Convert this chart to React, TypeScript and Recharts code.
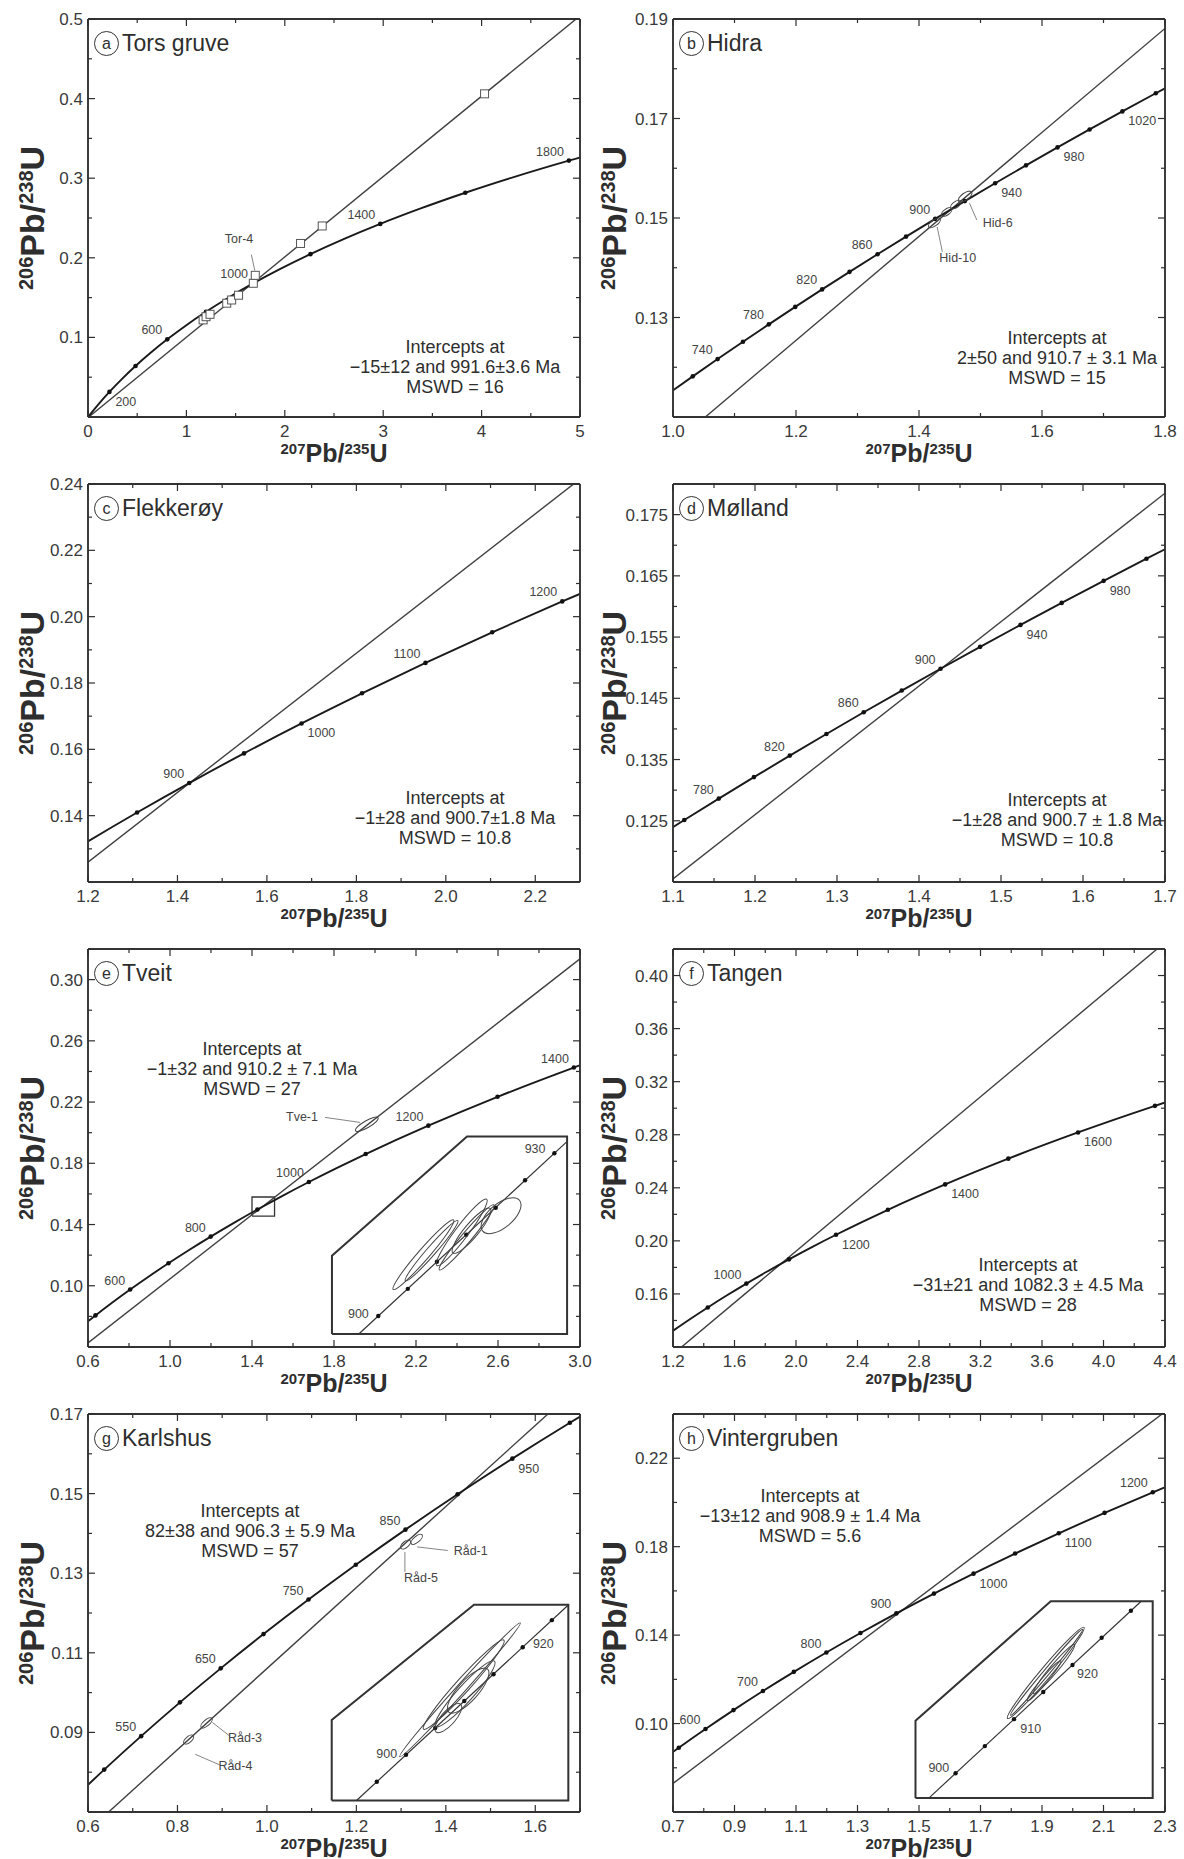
import React from 'react';
import { ComposedChart, Line, XAxis, YAxis } from 'recharts';

const FONT = '"Liberation Sans", Arial, Helvetica, sans-serif';
const INK = '#2e2e2e';

// Concordia reference points: [age Ma, 207Pb/235U, 206Pb/238U]
const CONCORDIA: [number, number, number][] = [
  [0, 0, 0], [100, 0.1035, 0.015633], [200, 0.21771, 0.031511], [300, 0.34374, 0.047637],
  [400, 0.48281, 0.064016], [450, 0.55766, 0.072301], [500, 0.63628, 0.08065],
  [550, 0.71887, 0.089064], [600, 0.80563, 0.097544], [650, 0.89677, 0.10609],
  [660, 0.91554, 0.107807], [680, 0.95365, 0.111249], [700, 0.99251, 0.114702],
  [720, 1.03215, 0.118166], [740, 1.07257, 0.12164], [750, 1.09308, 0.123382],
  [760, 1.1138, 0.125125], [780, 1.15585, 0.128621], [800, 1.19873, 0.132128],
  [820, 1.24247, 0.135646], [840, 1.28708, 0.139175], [850, 1.30971, 0.140944],
  [860, 1.33257, 0.142715], [880, 1.37897, 0.146266], [900, 1.4263, 0.149828],
  [920, 1.47457, 0.153401], [940, 1.52379, 0.156985], [950, 1.54877, 0.158781],
  [960, 1.57399, 0.16058], [980, 1.6252, 0.164186], [1000, 1.6774, 0.167803],
  [1020, 1.73066, 0.171432], [1040, 1.78498, 0.175072], [1050, 1.81254, 0.176896],
  [1060, 1.84038, 0.178723], [1080, 1.89688, 0.182386], [1100, 1.95452, 0.18606],
  [1150, 2.10365, 0.195296], [1200, 2.2603, 0.204603], [1250, 2.42486, 0.213983],
  [1300, 2.59774, 0.223435], [1400, 2.97009, 0.242562], [1500, 3.38099, 0.261987],
  [1600, 3.83441, 0.281716], [1700, 4.33477, 0.301754], [1800, 4.8869, 0.322104],
  [1900, 5.49618, 0.342773], [2000, 6.16852, 0.363765],
];

type Pt = { x: number; y: number };
type Shape = { len: number; wid: number; ang: number };
type Note = { x: number; y: number; text: string };

// ---------- (a) Tors gruve ----------
const A_X_MAJOR = [0, 1, 2, 3, 4, 5];
const A_X_MINOR = [0.5, 1.5, 2.5, 3.5, 4.5];
const A_Y_MAJOR = [0.1, 0.2, 0.3, 0.4, 0.5];
const A_Y_MINOR = [0.05, 0.15, 0.25, 0.35, 0.45];
const A_DISC: Pt[] = [{ x: -0.015, y: -0.0023 }, { x: 5.0, y: 0.504 }];
const A_AGE_LABELS = [{ age: 200, pos: 'lr' }, { age: 600, pos: 'ul' }, { age: 1000, pos: 'ul' }, { age: 1400, pos: 'ul' }, { age: 1800, pos: 'ul' }];
const A_SQUARES: Pt[] = [
  { x: 1.17, y: 0.122 }, { x: 1.2, y: 0.126 }, { x: 1.24, y: 0.129 }, { x: 1.41, y: 0.143 },
  { x: 1.46, y: 0.147 }, { x: 1.53, y: 0.153 }, { x: 1.68, y: 0.168 }, { x: 1.7, y: 0.178 },
  { x: 2.16, y: 0.218 }, { x: 2.38, y: 0.24 }, { x: 4.03, y: 0.406 },
];
const A_NOTES: Note[] = [{ x: 1.535, y: 0.224, text: 'Tor-4' }];
const A_POINTERS: Pt[][] = [[{ x: 1.66, y: 0.204 }, { x: 1.695, y: 0.184 }]];
const A_TEXT = ['Intercepts at', '\u221215\u00b112 and 991.6\u00b13.6 Ma', 'MSWD = 16'];

// ---------- (b) Hidra ----------
const B_X_MAJOR = [1.0, 1.2, 1.4, 1.6, 1.8];
const B_X_MINOR = [1.1, 1.3, 1.5, 1.7];
const B_Y_MAJOR = [0.13, 0.15, 0.17, 0.19];
const B_Y_MINOR = [0.12, 0.14, 0.16, 0.18];
const B_DISC: Pt[] = [{ x: 1.0, y: 0.1045 }, { x: 1.8, y: 0.1881 }];
const B_AGE_LABELS = [
  { age: 740, pos: 'ul' }, { age: 780, pos: 'ul' }, { age: 820, pos: 'ul' }, { age: 860, pos: 'ul' },
  { age: 900, pos: 'ul' }, { age: 940, pos: 'lr' }, { age: 980, pos: 'lr' }, { age: 1020, pos: 'lr' },
];
const B_ELL: Pt[] = [{ x: 1.425, y: 0.149 }, { x: 1.445, y: 0.1512 }, { x: 1.46, y: 0.1527 }, { x: 1.475, y: 0.1543 }];
const B_ELL_SHAPE: Shape[] = [{ len: 14, wid: 6, ang: -35 }, { len: 12, wid: 6, ang: -35 }, { len: 12, wid: 6, ang: -35 }, { len: 16, wid: 7, ang: -35 }];
const B_NOTES: Note[] = [{ x: 1.528, y: 0.149, text: 'Hid-6' }, { x: 1.463, y: 0.142, text: 'Hid-10' }];
const B_POINTERS: Pt[][] = [
  [{ x: 1.494, y: 0.1496 }, { x: 1.482, y: 0.153 }],
  [{ x: 1.438, y: 0.1432 }, { x: 1.4295, y: 0.1482 }],
];
const B_TEXT = ['Intercepts at', '2\u00b150 and 910.7 \u00b1 3.1 Ma', 'MSWD = 15'];

// ---------- (c) Flekkerøy ----------
const C_X_MAJOR = [1.2, 1.4, 1.6, 1.8, 2.0, 2.2];
const C_X_MINOR = [1.3, 1.5, 1.7, 1.9, 2.1];
const C_Y_MAJOR = [0.14, 0.16, 0.18, 0.2, 0.22, 0.24];
const C_Y_MINOR = [0.13, 0.15, 0.17, 0.19, 0.21, 0.23];
const C_DISC: Pt[] = [{ x: 1.2, y: 0.126 }, { x: 2.3, y: 0.2415 }];
const C_AGE_LABELS = [{ age: 900, pos: 'ul' }, { age: 1000, pos: 'lr' }, { age: 1100, pos: 'ul' }, { age: 1200, pos: 'ul' }];
const C_TEXT = ['Intercepts at', '\u22121\u00b128 and 900.7\u00b11.8 Ma', 'MSWD = 10.8'];

// ---------- (d) Mølland ----------
const D_X_MAJOR = [1.1, 1.2, 1.3, 1.4, 1.5, 1.6, 1.7];
const D_X_MINOR = [1.15, 1.25, 1.35, 1.45, 1.55, 1.65];
const D_Y_MAJOR = [0.125, 0.135, 0.145, 0.155, 0.165, 0.175];
const D_Y_MINOR = [0.12, 0.13, 0.14, 0.15, 0.16, 0.17];
const D_DISC: Pt[] = [{ x: 1.1, y: 0.1155 }, { x: 1.7, y: 0.1785 }];
const D_AGE_LABELS = [
  { age: 780, pos: 'ul' }, { age: 820, pos: 'ul' }, { age: 860, pos: 'ul' }, { age: 900, pos: 'ul' },
  { age: 940, pos: 'lr' }, { age: 980, pos: 'lr' },
];
const D_TEXT = ['Intercepts at', '\u22121\u00b128 and 900.7 \u00b1 1.8 Ma', 'MSWD = 10.8'];

// ---------- (e) Tveit ----------
const E_X_MAJOR = [0.6, 1.0, 1.4, 1.8, 2.2, 2.6, 3.0];
const E_X_MINOR = [0.8, 1.2, 1.6, 2.0, 2.4, 2.8];
const E_Y_MAJOR = [0.1, 0.14, 0.18, 0.22, 0.26, 0.3];
const E_Y_MINOR = [0.08, 0.12, 0.16, 0.2, 0.24, 0.28];
const E_DISC: Pt[] = [{ x: 0.6, y: 0.0627 }, { x: 3.0, y: 0.3136 }];
const E_AGE_LABELS = [{ age: 600, pos: 'ul' }, { age: 800, pos: 'ul' }, { age: 1000, pos: 'ul' }, { age: 1200, pos: 'ul' }, { age: 1400, pos: 'ul' }];
const E_FRAMES: Pt[][] = [
  [{ x: 1.79, y: 0.0685 }, { x: 2.937, y: 0.0685 }, { x: 2.937, y: 0.1975 }, { x: 2.449, y: 0.1975 }, { x: 1.79, y: 0.1196 }, { x: 1.79, y: 0.0685 }],
  [{ x: 1.4, y: 0.1455 }, { x: 1.51, y: 0.1455 }, { x: 1.51, y: 0.158 }, { x: 1.4, y: 0.158 }, { x: 1.4, y: 0.1455 }],
];
const E_INSET_LINE: Pt[] = [{ x: 1.921, y: 0.0685 }, { x: 2.935, y: 0.194 }];
const E_INSET_MARKS: Pt[] = [
  { x: 2.016, y: 0.0803 }, { x: 2.16, y: 0.098 }, { x: 2.302, y: 0.1157 }, { x: 2.445, y: 0.1334 },
  { x: 2.589, y: 0.151 }, { x: 2.732, y: 0.1689 }, { x: 2.875, y: 0.1866 },
];
const E_ELL: Pt[] = [
  { x: 1.96, y: 0.2055 }, { x: 2.236, y: 0.1203 }, { x: 2.276, y: 0.1229 }, { x: 2.423, y: 0.1349 },
  { x: 2.447, y: 0.1316 }, { x: 2.471, y: 0.136 }, { x: 2.615, y: 0.1458 },
];
const E_ELL_SHAPE: Shape[] = [
  { len: 26, wid: 7, ang: -30 }, { len: 92, wid: 11, ang: -49 }, { len: 80, wid: 9, ang: -49 }, { len: 83, wid: 13, ang: -53 },
  { len: 85, wid: 10, ang: -50 }, { len: 58, wid: 14, ang: -50 }, { len: 48, wid: 24, ang: -40 },
];
const E_NOTES: Note[] = [
  { x: 1.644, y: 0.21, text: 'Tve-1' }, { x: 1.919, y: 0.0818, text: '900' }, { x: 2.781, y: 0.1895, text: '930' },
];
const E_POINTERS: Pt[][] = [[{ x: 1.756, y: 0.21 }, { x: 1.927, y: 0.2067 }]];
const E_TEXT = ['Intercepts at', '\u22121\u00b132 and 910.2 \u00b1 7.1 Ma', 'MSWD = 27'];

// ---------- (f) Tangen ----------
const F_X_MAJOR = [1.2, 1.6, 2.0, 2.4, 2.8, 3.2, 3.6, 4.0, 4.4];
const F_X_MINOR = [1.4, 1.8, 2.2, 2.6, 3.0, 3.4, 3.8, 4.2];
const F_Y_MAJOR = [0.16, 0.2, 0.24, 0.28, 0.32, 0.36, 0.4];
const F_Y_MINOR = [0.14, 0.18, 0.22, 0.26, 0.3, 0.34, 0.38];
const F_DISC: Pt[] = [{ x: 1.2, y: 0.1146 }, { x: 4.4, y: 0.425 }];
const F_AGE_LABELS = [{ age: 1000, pos: 'ul' }, { age: 1200, pos: 'lr' }, { age: 1400, pos: 'lr' }, { age: 1600, pos: 'lr' }];
const F_TEXT = ['Intercepts at', '\u221231\u00b121 and 1082.3 \u00b1 4.5 Ma', 'MSWD = 28'];

// ---------- (g) Karlshus ----------
const G_X_MAJOR = [0.6, 0.8, 1.0, 1.2, 1.4, 1.6];
const G_X_MINOR = [0.7, 0.9, 1.1, 1.3, 1.5, 1.7];
const G_Y_MAJOR = [0.09, 0.11, 0.13, 0.15, 0.17];
const G_Y_MINOR = [0.08, 0.1, 0.12, 0.14, 0.16];
const G_DISC: Pt[] = [{ x: 0.6, y: 0.0653 }, { x: 1.7, y: 0.1773 }];
const G_AGE_LABELS = [{ age: 550, pos: 'ul' }, { age: 650, pos: 'ul' }, { age: 750, pos: 'ul' }, { age: 850, pos: 'ul' }, { age: 950, pos: 'lr' }];
const G_FRAMES: Pt[][] = [
  [{ x: 1.1449, y: 0.0729 }, { x: 1.6739, y: 0.0729 }, { x: 1.6739, y: 0.1221 }, { x: 1.463, y: 0.1221 }, { x: 1.1449, y: 0.0931 }, { x: 1.1449, y: 0.0729 }],
];
const G_INSET_LINE: Pt[] = [{ x: 1.2004, y: 0.0729 }, { x: 1.6739, y: 0.122 }];
const G_INSET_MARKS: Pt[] = [
  { x: 1.2457, y: 0.0776 }, { x: 1.311, y: 0.0844 }, { x: 1.3763, y: 0.0911 }, { x: 1.4413, y: 0.0979 },
  { x: 1.5066, y: 0.1046 }, { x: 1.5719, y: 0.1114 }, { x: 1.637, y: 0.1182 },
];
const G_ELL: Pt[] = [
  { x: 1.335, y: 0.1385 }, { x: 1.31, y: 0.1372 }, { x: 0.865, y: 0.0924 }, { x: 0.825, y: 0.0882 },
  { x: 1.4317, y: 0.1007 }, { x: 1.44, y: 0.102 }, { x: 1.443, y: 0.0997 }, { x: 1.45, y: 0.1005 }, { x: 1.4056, y: 0.0936 },
];
const G_ELL_SHAPE: Shape[] = [
  { len: 14, wid: 6, ang: -40 }, { len: 12, wid: 6, ang: -40 }, { len: 14, wid: 6, ang: -40 }, { len: 12, wid: 6, ang: -40 },
  { len: 180, wid: 9, ang: -48 }, { len: 120, wid: 14, ang: -48 }, { len: 88, wid: 16, ang: -48 }, { len: 58, wid: 20, ang: -48 }, { len: 37, wid: 14, ang: -48 },
];
const G_NOTES: Note[] = [
  { x: 1.4556, y: 0.1357, text: 'R\u00e5d-1' }, { x: 1.3445, y: 0.1289, text: 'R\u00e5d-5' },
  { x: 0.951, y: 0.0887, text: 'R\u00e5d-3' }, { x: 0.9296, y: 0.0816, text: 'R\u00e5d-4' },
  { x: 1.2678, y: 0.0845, text: '900' }, { x: 1.618, y: 0.1122, text: '920' },
];
const G_POINTERS: Pt[][] = [
  [{ x: 1.4044, y: 0.1357 }, { x: 1.3358, y: 0.1366 }],
  [{ x: 1.3085, y: 0.1303 }, { x: 1.3085, y: 0.1353 }],
  [{ x: 0.9166, y: 0.0891 }, { x: 0.8781, y: 0.0925 }],
  [{ x: 0.8951, y: 0.0818 }, { x: 0.8397, y: 0.0845 }],
];
const G_TEXT = ['Intercepts at', '82\u00b138 and 906.3 \u00b1 5.9 Ma', 'MSWD = 57'];

// ---------- (h) Vintergruben ----------
const H_X_MAJOR = [0.7, 0.9, 1.1, 1.3, 1.5, 1.7, 1.9, 2.1, 2.3];
const H_X_MINOR = [0.8, 1.0, 1.2, 1.4, 1.6, 1.8, 2.0, 2.2];
const H_Y_MAJOR = [0.1, 0.14, 0.18, 0.22];
const H_Y_MINOR = [0.08, 0.12, 0.16, 0.2, 0.24];
const H_DISC: Pt[] = [{ x: 0.7, y: 0.0729 }, { x: 2.3, y: 0.241 }];
const H_AGE_LABELS = [
  { age: 600, pos: 'ul' }, { age: 700, pos: 'ul' }, { age: 800, pos: 'ul' }, { age: 900, pos: 'ul' },
  { age: 1000, pos: 'lr' }, { age: 1100, pos: 'lr' }, { age: 1200, pos: 'ul' },
];
const H_FRAMES: Pt[][] = [
  [{ x: 1.4886, y: 0.0663 }, { x: 2.26, y: 0.0663 }, { x: 2.26, y: 0.1553 }, { x: 1.9285, y: 0.1553 }, { x: 1.4886, y: 0.1013 }, { x: 1.4886, y: 0.0663 }],
];
const H_INSET_LINE: Pt[] = [{ x: 1.532, y: 0.0663 }, { x: 2.2226, y: 0.1553 }];
const H_INSET_MARKS: Pt[] = [
  { x: 1.6189, y: 0.0775 }, { x: 1.7141, y: 0.0898 }, { x: 1.809, y: 0.102 }, { x: 1.9041, y: 0.1143 },
  { x: 1.9992, y: 0.1265 }, { x: 2.0941, y: 0.1388 }, { x: 2.1892, y: 0.151 },
];
const H_ELL: Pt[] = [{ x: 1.9122, y: 0.1229 }, { x: 1.915, y: 0.1232 }, { x: 1.9392, y: 0.1247 }, { x: 1.9068, y: 0.1194 }];
const H_ELL_SHAPE: Shape[] = [{ len: 119, wid: 11, ang: -50 }, { len: 112, wid: 6, ang: -50 }, { len: 64, wid: 8, ang: -50 }, { len: 52, wid: 6, ang: -50 }];
const H_NOTES: Note[] = [
  { x: 1.5645, y: 0.0801, text: '900' }, { x: 1.8633, y: 0.0975, text: '910' }, { x: 2.0481, y: 0.1224, text: '920' },
];
const H_TEXT = ['Intercepts at', '\u221213\u00b112 and 908.9 \u00b1 1.4 Ma', 'MSWD = 5.6'];

// ---------- layout ----------
const ROW_H = 465;
const PLOT_TOP = 19;
const PLOT_BOTTOM = 417;
const COLS = [
  { left: 0, width: 604, plotLeft: 88, plotRight: 580, yTitleX: 32 },
  { left: 590, width: 594, plotLeft: 83, plotRight: 575, yTitleX: 24 },
];

interface PanelDef {
  letter: string; name: string; col: number; row: number;
  xDomain: [number, number]; yDomain: [number, number];
  xMajor: number[]; xMinor: number[]; yMajor: number[]; yMinor: number[];
  xDec: number; yDec: number;
  conc: { min: number; max: number; curveStep: number; markStep: number };
  ageLabels: { age: number; pos: string }[];
  disc: Pt[]; text: string[]; textAt: { x: number; y: number };
  frames?: Pt[][]; pointers?: Pt[][]; squares?: Pt[];
  ell?: Pt[]; ellShape?: Shape[]; insetLine?: Pt[]; insetMarks?: Pt[]; notes?: Note[];
}

const PANELS: PanelDef[] = [
  { letter: 'a', name: 'Tors gruve', col: 0, row: 0, xDomain: [0, 5], yDomain: [0, 0.5],
    xMajor: A_X_MAJOR, xMinor: A_X_MINOR, yMajor: A_Y_MAJOR, yMinor: A_Y_MINOR, xDec: 0, yDec: 1,
    conc: { min: 0, max: 2000, curveStep: 100, markStep: 200 }, ageLabels: A_AGE_LABELS,
    disc: A_DISC, text: A_TEXT, textAt: { x: 455, y: 347 }, squares: A_SQUARES, notes: A_NOTES, pointers: A_POINTERS },
  { letter: 'b', name: 'Hidra', col: 1, row: 0, xDomain: [1.0, 1.8], yDomain: [0.11, 0.19],
    xMajor: B_X_MAJOR, xMinor: B_X_MINOR, yMajor: B_Y_MAJOR, yMinor: B_Y_MINOR, xDec: 1, yDec: 2,
    conc: { min: 680, max: 1080, curveStep: 20, markStep: 20 }, ageLabels: B_AGE_LABELS,
    disc: B_DISC, text: B_TEXT, textAt: { x: 467, y: 338 }, ell: B_ELL, ellShape: B_ELL_SHAPE, notes: B_NOTES, pointers: B_POINTERS },
  { letter: 'c', name: 'Flekker\u00f8y', col: 0, row: 1, xDomain: [1.2, 2.3], yDomain: [0.12, 0.24],
    xMajor: C_X_MAJOR, xMinor: C_X_MINOR, yMajor: C_Y_MAJOR, yMinor: C_Y_MINOR, xDec: 1, yDec: 2,
    conc: { min: 750, max: 1300, curveStep: 50, markStep: 50 }, ageLabels: C_AGE_LABELS,
    disc: C_DISC, text: C_TEXT, textAt: { x: 455, y: 333 } },
  { letter: 'd', name: 'M\u00f8lland', col: 1, row: 1, xDomain: [1.1, 1.7], yDomain: [0.115, 0.18],
    xMajor: D_X_MAJOR, xMinor: D_X_MINOR, yMajor: D_Y_MAJOR, yMinor: D_Y_MINOR, xDec: 1, yDec: 3,
    conc: { min: 720, max: 1040, curveStep: 20, markStep: 20 }, ageLabels: D_AGE_LABELS,
    disc: D_DISC, text: D_TEXT, textAt: { x: 467, y: 335 } },
  { letter: 'e', name: 'Tveit', col: 0, row: 2, xDomain: [0.6, 3.0], yDomain: [0.06, 0.32],
    xMajor: E_X_MAJOR, xMinor: E_X_MINOR, yMajor: E_Y_MAJOR, yMinor: E_Y_MINOR, xDec: 1, yDec: 2,
    conc: { min: 450, max: 1500, curveStep: 50, markStep: 100 }, ageLabels: E_AGE_LABELS,
    disc: E_DISC, text: E_TEXT, textAt: { x: 252, y: 119 }, frames: E_FRAMES, insetLine: E_INSET_LINE,
    insetMarks: E_INSET_MARKS, ell: E_ELL, ellShape: E_ELL_SHAPE, notes: E_NOTES, pointers: E_POINTERS },
  { letter: 'f', name: 'Tangen', col: 1, row: 2, xDomain: [1.2, 4.4], yDomain: [0.12, 0.42],
    xMajor: F_X_MAJOR, xMinor: F_X_MINOR, yMajor: F_Y_MAJOR, yMinor: F_Y_MINOR, xDec: 1, yDec: 2,
    conc: { min: 800, max: 1800, curveStep: 50, markStep: 100 }, ageLabels: F_AGE_LABELS,
    disc: F_DISC, text: F_TEXT, textAt: { x: 438, y: 335 } },
  { letter: 'g', name: 'Karlshus', col: 0, row: 3, xDomain: [0.6, 1.7], yDomain: [0.07, 0.17],
    xMajor: G_X_MAJOR, xMinor: G_X_MINOR, yMajor: G_Y_MAJOR, yMinor: G_Y_MINOR, xDec: 1, yDec: 2,
    conc: { min: 450, max: 1050, curveStep: 50, markStep: 50 }, ageLabels: G_AGE_LABELS,
    disc: G_DISC, text: G_TEXT, textAt: { x: 250, y: 116 }, frames: G_FRAMES, insetLine: G_INSET_LINE,
    insetMarks: G_INSET_MARKS, ell: G_ELL, ellShape: G_ELL_SHAPE, notes: G_NOTES, pointers: G_POINTERS },
  { letter: 'h', name: 'Vintergruben', col: 1, row: 3, xDomain: [0.7, 2.3], yDomain: [0.06, 0.24],
    xMajor: H_X_MAJOR, xMinor: H_X_MINOR, yMajor: H_Y_MAJOR, yMinor: H_Y_MINOR, xDec: 1, yDec: 2,
    conc: { min: 500, max: 1300, curveStep: 50, markStep: 50 }, ageLabels: H_AGE_LABELS,
    disc: H_DISC, text: H_TEXT, textAt: { x: 220, y: 101 }, frames: H_FRAMES, insetLine: H_INSET_LINE,
    insetMarks: H_INSET_MARKS, ell: H_ELL, ellShape: H_ELL_SHAPE, notes: H_NOTES },
];

const near = (a: number, list: number[]) => list.some((m) => Math.abs(m - a) < 1e-9);

function tickFactory(side: string, majors: number[], dec: number) {
  return (p: any) => {
    const v = p.payload.value;
    const major = near(v, majors);
    const len = major ? 7 : 4;
    const x = p.x;
    const y = p.y;
    let ln: any;
    if (side === 'b') ln = <line x1={x} y1={y} x2={x} y2={y - len} />;
    else if (side === 't') ln = <line x1={x} y1={y} x2={x} y2={y + len} />;
    else if (side === 'l') ln = <line x1={x} y1={y} x2={x + len} y2={y} />;
    else ln = <line x1={x} y1={y} x2={x - len} y2={y} />;
    let label: any = null;
    if (major && side === 'b') {
      label = <text x={x} y={y + 20} textAnchor="middle" fontSize={17} fill="#3a3a3a" fontFamily={FONT}>{v.toFixed(dec)}</text>;
    } else if (major && side === 'l') {
      label = <text x={x - 5} y={y + 6} textAnchor="end" fontSize={17} fill="#3a3a3a" fontFamily={FONT}>{v.toFixed(dec)}</text>;
    }
    return (
      <g key={`${side}-${v}`}>
        <g stroke={INK} strokeWidth={1.2}>{ln}</g>
        {label}
      </g>
    );
  };
}

const AX = { stroke: '#333', strokeWidth: 1.9 };

function Sup({ children, size }: { children: any; size: number }) {
  return <span style={{ fontSize: size, position: 'relative', top: -size * 0.55 }}>{children}</span>;
}

function Panel({ d }: { d: PanelDef }) {
  const col = COLS[d.col];
  const W = col.width;
  // axes are 1px thick, so margins are reduced by one pixel on each side
  const margin = { top: PLOT_TOP - 1, right: W - col.plotRight - 1, bottom: ROW_H - PLOT_BOTTOM - 1, left: col.plotLeft - 1 };
  const [x0, x1] = d.xDomain;
  const [y0, y1] = d.yDomain;
  const curve = CONCORDIA
    .filter(([a]) => a >= d.conc.min && a <= d.conc.max && a % d.conc.curveStep === 0)
    .map(([age, x, y]) => ({ age, x, y }));
  const labelMap: Record<number, string> = {};
  d.ageLabels.forEach((l) => { labelMap[l.age] = l.pos; });
  const xt = [...d.xMajor, ...d.xMinor].sort((a, b) => a - b);
  const yt = [...d.yMajor, ...d.yMinor].sort((a, b) => a - b);

  const concDot = (p: any) => {
    const { cx, cy, payload, index } = p;
    const inside = payload.x >= x0 && payload.x <= x1 && payload.y >= y0 && payload.y <= y1;
    if (!inside || payload.age === 0 || payload.age % d.conc.markStep !== 0) return <g key={`c${index}`} />;
    const pos = labelMap[payload.age];
    return (
      <g key={`c${index}`}>
        <circle cx={cx} cy={cy} r={2.3} fill="#111" />
        {pos === 'ul' && <text x={cx - 5} y={cy - 5} textAnchor="end" fontSize={12.5} fill="#444" fontFamily={FONT}>{payload.age}</text>}
        {pos === 'lr' && <text x={cx + 6} y={cy + 14} textAnchor="start" fontSize={12.5} fill="#444" fontFamily={FONT}>{payload.age}</text>}
      </g>
    );
  };
  const markDot = (p: any) => <circle key={`m${p.index}`} cx={p.cx} cy={p.cy} r={2.2} fill="#111" />;
  const squareDot = (p: any) => (
    <rect key={`s${p.index}`} x={p.cx - 4} y={p.cy - 4} width={8} height={8} fill="#fff" stroke="#555" strokeWidth={1} />
  );
  const ellDot = (p: any) => {
    const s = (d.ellShape || [])[p.index];
    if (!s) return <g key={`e${p.index}`} />;
    return (
      <ellipse key={`e${p.index}`} cx={p.cx} cy={p.cy} rx={s.len / 2} ry={s.wid / 2}
        transform={`rotate(${s.ang} ${p.cx} ${p.cy})`} fill="none" stroke="#444" strokeWidth={1} />
    );
  };
  const noteDot = (p: any) => (
    <text key={`n${p.index}`} x={p.cx} y={p.cy + 4} textAnchor="middle" fontSize={12.5} fill="#444" fontFamily={FONT}>{p.payload.text}</text>
  );

  const common = { xAxisId: 'x', yAxisId: 'y', dataKey: 'y', isAnimationActive: false, activeDot: false as any };
  const plotCx = (col.plotLeft + col.plotRight) / 2;
  const plotCy = (PLOT_TOP + PLOT_BOTTOM) / 2;

  return (
    <div style={{ position: 'absolute', left: col.left, top: d.row * ROW_H, width: W, height: ROW_H }}>
      <ComposedChart width={W} height={ROW_H} margin={margin}>
        <XAxis xAxisId="x" type="number" dataKey="x" domain={d.xDomain} allowDataOverflow ticks={xt} interval={0}
          tickSize={0} tickMargin={0} tickLine={false} axisLine={AX} tick={tickFactory('b', d.xMajor, d.xDec)} height={1} orientation="bottom" />
        <XAxis xAxisId="xt" type="number" dataKey="x" domain={d.xDomain} allowDataOverflow ticks={xt} interval={0}
          tickSize={0} tickMargin={0} tickLine={false} axisLine={AX} tick={tickFactory('t', d.xMajor, d.xDec)} height={1} orientation="top" />
        <YAxis yAxisId="y" type="number" dataKey="y" domain={d.yDomain} allowDataOverflow ticks={yt} interval={0}
          tickSize={0} tickMargin={0} tickLine={false} axisLine={AX} tick={tickFactory('l', d.yMajor, d.yDec)} width={1} orientation="left" />
        <YAxis yAxisId="yr" type="number" dataKey="y" domain={d.yDomain} allowDataOverflow ticks={yt} interval={0}
          tickSize={0} tickMargin={0} tickLine={false} axisLine={AX} tick={tickFactory('r', d.yMajor, d.yDec)} width={1} orientation="right" />
        <Line xAxisId="xt" yAxisId="yr" dataKey="y" data={d.disc} stroke="none" dot={false} isAnimationActive={false} activeDot={false} />
        {(d.frames || []).map((f, i) => (
          <Line key={`f${i}`} {...common} data={f} type="linear" stroke="#333" strokeWidth={i === 0 ? 2 : 1.3} dot={false} />
        ))}
        {(d.pointers || []).map((f, i) => (
          <Line key={`p${i}`} {...common} data={f} type="linear" stroke="#777" strokeWidth={0.9} dot={false} />
        ))}
        <Line {...common} data={d.disc} type="linear" stroke="#404040" strokeWidth={1.4} dot={false} />
        <Line {...common} data={curve} type="monotone" stroke="#1a1a1a" strokeWidth={1.9} dot={concDot} />
        {d.insetLine && <Line {...common} data={d.insetLine} type="linear" stroke="#333" strokeWidth={1.2} dot={false} />}
        {d.insetMarks && <Line {...common} data={d.insetMarks} type="linear" stroke="none" dot={markDot} />}
        {d.squares && <Line {...common} data={d.squares} type="linear" stroke="none" dot={squareDot} />}
        {d.ell && <Line {...common} data={d.ell} type="linear" stroke="none" dot={ellDot} />}
        {d.notes && <Line {...common} data={d.notes} type="linear" stroke="none" dot={noteDot} />}
      </ComposedChart>

      {/* panel label */}
      <div style={{ position: 'absolute', left: col.plotLeft + 6, top: PLOT_TOP + 12, display: 'flex', alignItems: 'center', fontFamily: FONT, color: INK }}>
        <div style={{ width: 25, height: 25, borderRadius: '50%', border: '1.6px solid #333', boxSizing: 'border-box', display: 'flex', alignItems: 'center', justifyContent: 'center', fontSize: 16, lineHeight: 1 }}>{d.letter}</div>
        <span style={{ fontSize: 23, marginLeft: 3, lineHeight: 1 }}>{d.name}</span>
      </div>

      {/* intercept text */}
      <div style={{ position: 'absolute', left: d.textAt.x, top: d.textAt.y - 10, transform: 'translateX(-50%)', textAlign: 'center', fontFamily: FONT, fontSize: 18, lineHeight: '20px', color: INK, whiteSpace: 'nowrap' }}>
        {d.text.map((t, i) => <div key={i}>{t}</div>)}
      </div>

      {/* x title */}
      <div style={{ position: 'absolute', left: plotCx, top: 453, transform: 'translate(-50%, -50%)', fontFamily: FONT, fontWeight: 'bold', fontSize: 25, color: INK, whiteSpace: 'nowrap', lineHeight: 1 }}>
        <Sup size={15}>207</Sup>Pb/<Sup size={15}>235</Sup>U
      </div>

      {/* y title */}
      <div style={{ position: 'absolute', left: col.yTitleX, top: plotCy, transform: 'translate(-50%, -50%) rotate(-90deg)', fontFamily: FONT, fontWeight: 'bold', fontSize: 34, color: INK, whiteSpace: 'nowrap', lineHeight: 1 }}>
        <Sup size={20}>206</Sup>Pb/<Sup size={20}>238</Sup>U
      </div>
    </div>
  );
}

export default function App() {
  return (
    <div style={{ position: 'absolute', left: 0, top: 0, width: 1184, height: 1859, background: '#fff' }}>
      {PANELS.map((p) => <Panel key={p.letter} d={p} />)}
    </div>
  );
}
